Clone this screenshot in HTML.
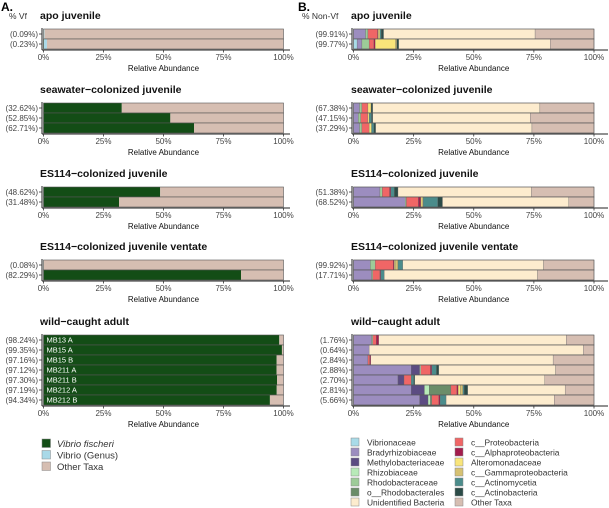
<!DOCTYPE html>
<html><head><meta charset="utf-8">
<style>
body{margin:0;background:#fff;}
svg{display:block;font-family:"Liberation Sans",Arial,sans-serif;}
.tk{font-size:8px;fill:#444;}
.rl{font-size:8px;fill:#444;}
.ttl{font-size:10.5px;font-weight:bold;fill:#111;}
.ax{font-size:8px;fill:#111;}
.lg{font-size:9.5px;fill:#333;}
</style></head>
<body>
<svg id="fig" width="609" height="508" viewBox="0 0 609 508">
<text x="1" y="11" font-size="12" font-weight="bold" fill="#000">A.</text>
<text x="298" y="11" font-size="12" font-weight="bold" fill="#000">B.</text>
<text x="9" y="19" font-size="8.5" fill="#333">% Vf</text>
<text x="302" y="19" font-size="8.5" fill="#333">% Non-Vf</text>
<g id="plots"></g>
<g id="legA"></g>
<g id="legB"></g>
</svg>
<script>
const NS="http://www.w3.org/2000/svg";
// ---- data ----
const groupTitles=["apo juvenile","seawater\u2212colonized juvenile","ES114\u2212colonized juvenile","ES114\u2212colonized juvenile ventate","wild\u2212caught adult"];
const vfLabels=[["(0.09%)","(0.23%)"],["(32.62%)","(52.85%)","(62.71%)"],["(48.62%)","(31.48%)"],["(0.08%)","(82.29%)"],["(98.24%)","(99.35%)","(97.16%)","(97.12%)","(97.30%)","(97.19%)","(94.34%)"]];
const vfValues=[[0.09,0.23],[32.62,52.85,62.71],[48.62,31.48],[0.08,82.29],[98.24,99.35,97.16,97.12,97.30,97.19,94.34]];
const vibrioGenus=[[0.3,1.2],[0,0,0],[0,0],[0,0],[0,0,0,0,0,0,0]];
const sampleNames=["MB13 A","MB15 A","MB15 B","MB211 A","MB211 B","MB212 A","MB212 B"];
const nonVfLabels=[["(99.91%)","(99.77%)"],["(67.38%)","(47.15%)","(37.29%)"],["(51.38%)","(68.52%)"],["(99.92%)","(17.71%)"],["(1.76%)","(0.64%)","(2.84%)","(2.88%)","(2.70%)","(2.81%)","(5.66%)"]];
const taxaA=["Vibrio fischeri","Vibrio (Genus)","Other Taxa"];
const colorsA=["#134d16","#a9d9e8","#d6beb2"];
const taxaB=["Vibrionaceae","Bradyrhizobiaceae","Methylobacteriaceae","Rhizobiaceae","Rhodobacteraceae","o__Rhodobacterales","c__Proteobacteria","c__Alphaproteobacteria","Alteromonadaceae","c__Gammaproteobacteria","c__Actinomycetia","c__Actinobacteria","Unidentified Bacteria","Other Taxa"];
const colorsB=["#a9dbe8","#9c8dbf","#5c4c82","#b8eab8","#9dcb98","#6b8d69","#f06666","#a31c4c","#f9e57a","#d6c172","#4b8c8b","#2b4b47","#fdecce","#d6beb2"];
const compB=[
 [[0,5,0,0,1,0,4,0.3,0.7,0,0.5,1,63,24.5],[1.5,2,0,0,3,0,2,0.5,8.5,0.5,0,0.8,63,18.2]],
 [[0,2.5,0,0,1,0,2.5,0,1.3,0,0,0.7,69.5,22.5],[0,2,0,0,1,0,3,0,0.5,0,1,0.5,65.5,26.5],[0,2.5,0,0,1,0,3,0,1,0,1,0.7,65,25.8]],
 [[0,11,0,0,1,0,3,0.5,0,0,1.5,1.5,55.5,26],[0,21.5,0,0,0.5,0,5,1,0.5,0.5,6,2,52.5,10.5]],
 [[0,7,0,0,2,0,7.5,0.5,0.5,1,2,0,58.5,21],[0,7.5,0,0,0.5,0,3,0.3,0,0,1.5,0,63.7,23.5]],
 [[0,7.5,0,0,0.5,0,1.5,1,0,0,0,0,78,11.5],[0,6.5,0,0,0,0,0,0,0,0,0,0,89,4.5],[0,6,0,0,0,0,0.8,0.4,0,0,0,0,75.8,17],[0,24,3.5,0.5,0,0,4,0.5,0,0,2,1,48.5,16],[0,18.5,2.5,0,0,0,3,0,0,0,1,0.5,54,20.5],[0,24,5.5,2,0,9,2.5,0.5,1,1,0.5,1.5,40.5,12],[0,27.5,3.5,1,0,0.5,3,0.5,0,0,2.5,0,45,16.5]]
];
const tickVals=[0,25,50,75,100];
const tickLabels=["0%","25%","50%","75%","100%"];
// ---- layout ----
const barTops=[29,103,187,260,335];
const rowH=10;
const xA=v=>43.5+v*2.40;
const xB=v=>353.5+v*2.405;
function el(tag,attrs,parent,txt){const e=document.createElementNS(NS,tag);for(const k in attrs)e.setAttribute(k,attrs[k]);if(txt!==undefined)e.textContent=txt;parent.appendChild(e);return e;}
const plots=document.getElementById('plots');
function axis(g,xf,axL,axR,top,bot,labels,labX){
  el('line',{x1:axL,y1:top-1,x2:axL,y2:bot+1,stroke:'#222','stroke-width':1},g);
  el('line',{x1:axL,y1:bot+1,x2:axR,y2:bot+1,stroke:'#222','stroke-width':1},g);
  tickVals.forEach((v,i)=>{
    el('line',{x1:xf(v),y1:bot+1,x2:xf(v),y2:bot+3.5,stroke:'#333','stroke-width':0.8},g);
    const t=el('text',{x:xf(v),y:bot+11,'text-anchor':'middle',class:'tk'},g,tickLabels[i]);
    
    
  });
  const at=el('text',{x:(xf(0)+xf(100))/2,y:bot+22,'text-anchor':'middle',class:'ax'},g,'Relative Abundance');
  
  
  labels.forEach((l,i)=>{
    const y=top+i*rowH+rowH/2;
    el('line',{x1:axL-3,y1:y,x2:axL,y2:y,stroke:'#333','stroke-width':0.8},g);
    const t=el('text',{x:labX,y:y+3,'text-anchor':'end',class:'rl'},g,l);
    
    
  });
}
groupTitles.forEach((title,gi)=>{
  const top=barTops[gi], n=vfValues[gi].length, bot=top+n*rowH;
  const gA=el('g',{},plots);
  
  
  const tA=el('text',{x:40,y:top-10,class:'ttl'},gA,title);
  
  
  vfValues[gi].forEach((vf,ri)=>{
    const y=top+ri*rowH;
    const vals=[vf,vibrioGenus[gi][ri],100-vf-vibrioGenus[gi][ri]];
    let acc=0;
    vals.forEach((v,k)=>{
      if(v<=0)return;
      const r=el('rect',{x:xA(acc),y:y,width:xA(acc+v)-xA(acc),height:rowH,fill:colorsA[k]},gA);
      
      
      acc+=v;
    });
    el('rect',{x:xA(0),y:y,width:xA(100)-xA(0),height:rowH,fill:'none',stroke:'#555','stroke-width':0.6},gA);
    if(gi===4){
      const t=el('text',{x:xA(0)+3,y:y+7.5,'font-size':'7.5px',fill:'#fff'},gA,sampleNames[ri]);
      
      
    }
  });
  axis(gA,xA,42,290,top,bot,vfLabels[gi],38);
  const gB=el('g',{},plots);
  
  
  const tB=el('text',{x:351,y:top-10,class:'ttl'},gB,title);
  
  
  compB[gi].forEach((row,ri)=>{
    const y=top+ri*rowH; let acc=0;
    row.forEach((v,k)=>{
      if(v<=0)return;
      const r=el('rect',{x:xB(acc),y:y,width:xB(acc+v)-xB(acc),height:rowH,fill:colorsB[k],stroke:'#666','stroke-width':0.3},gB);
      
      
      acc+=v;
    });
    el('rect',{x:xB(0),y:y,width:xB(100)-xB(0),height:rowH,fill:'none',stroke:'#555','stroke-width':0.6},gB);
  });
  axis(gB,xB,352,608,top,bot,nonVfLabels[gi],348);
});
const legA=document.getElementById('legA');
taxaA.forEach((t,i)=>{
  const y=439+i*11.5;
  const s=el('rect',{x:42,y:y,width:8.5,height:8.5,fill:colorsA[i],stroke:'#888','stroke-width':0.5},legA);
  
  
  const tx=el('text',{x:57,y:y+8,class:'lg','font-style':i===0?'italic':'normal',fill:i===0?'#111':'#333'},legA,t);
  
  
});
const legB=document.getElementById('legB');
const orderB=[[0,1,2,3,4,5,12],[6,7,8,9,10,11,13]];
orderB.forEach((col,c)=>{
  col.forEach((k,i)=>{
    const y=438+i*10; const x=c===0?351:455;
    const s=el('rect',{x:x,y:y,width:8,height:8,fill:colorsB[k],stroke:'#888','stroke-width':0.5},legB);
    
    
    const tx=el('text',{x:x+16,y:y+7.5,'font-size':'8.4px',fill:'#333'},legB,taxaB[k]);
    
    
  });
});
</script>
</body></html>
